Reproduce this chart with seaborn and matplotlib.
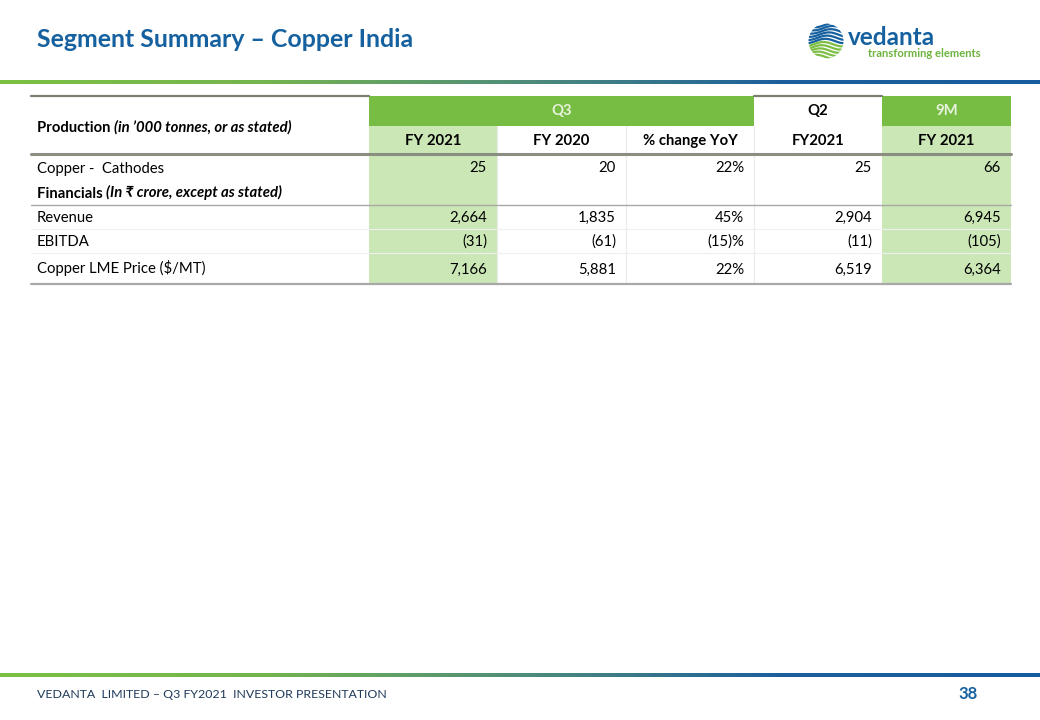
import numpy as np
import matplotlib.pyplot as plt
from matplotlib.colors import LinearSegmentedColormap
from matplotlib.patches import Rectangle, Circle
import seaborn as sns

# table content
row_labels = ["Copper -  Cathodes", "Financials", "Revenue", "EBITDA", "Copper LME Price ($/MT)"]
q3_fy2021 = [25, None, 2664, -31, 7166]
q3_fy2020 = [20, None, 1835, -61, 5881]
yoy_change = [22, None, 45, -15, 22]
q2_fy2021 = [25, None, 2904, -11, 6519]
nine_m_fy2021 = [66, None, 6945, -105, 6364]

group_headers = ["Q3", "Q2", "9M"]
sub_headers = ["FY 2021", "FY 2020", "% change YoY", "FY2021", "FY 2021"]

BLUE = "#15609F"
GREEN = "#77BD43"
LIGHT = "#CBE7B6"


def fmt(v, pct=False):
    if v is None:
        return ""
    s = f"{abs(v):,}"
    if v < 0:
        s = f"({s})"
    if pct:
        s = s + "%"
    return s


sns.set_theme(style="white")
plt.rcParams["font.family"] = ["Lato", "DejaVu Sans"]

fig = plt.figure(figsize=(10.4, 7.2), dpi=100)
ax = fig.add_axes([0, 0, 1, 1])
ax.set_xlim(0, 1040)
ax.set_ylim(720, 0)
ax.axis("off")

# title + logo
ax.text(37, 39.5, "Segment Summary \u2013 Copper India", fontsize=17.9, fontweight="bold",
        color=BLUE, va="center", ha="left")

logo = Circle((826, 41), 17.5, transform=ax.transData, facecolor="none", edgecolor="none")
ax.add_patch(logo)
xs = np.linspace(806, 846, 80)
for i, yy in enumerate(np.arange(25, 60, 3.2)):
    c = BLUE if i < 6 else "#7DBE45"
    ln, = ax.plot(xs, yy + 2.2 * np.sin((xs - 806) / 6.0 + i * 0.3), color=c, lw=1.6,
                  solid_capstyle="butt")
    ln.set_clip_path(logo)
ax.text(848, 45, "vedanta", fontsize=17.5, fontweight="bold", color=BLUE, va="baseline", ha="left")
ax.text(868, 57, "transforming elements", fontsize=8.1, fontweight="bold", color="#6DB33F",
        va="baseline", ha="left")

# gradient rules
cmap = LinearSegmentedColormap.from_list("rule", ["#7CC043", "#74B44E", "#4F8D7A", "#1D5F9C", "#175C9E"])
grad = np.linspace(0, 1, 400).reshape(1, -1)
ax.imshow(grad, cmap=cmap, extent=(0, 1040, 84, 80), aspect="auto", zorder=1)
ax.imshow(grad, cmap=cmap, extent=(0, 1040, 677.5, 673.5), aspect="auto", zorder=1)
ax.set_xlim(0, 1040)
ax.set_ylim(720, 0)

# table layout
col_edges = [31, 369, 497, 626, 754, 882, 1011]
top, mid, head_bot = 96, 126, 154
row_edges = [155, 180, 205, 229, 253, 284]

# fills
ax.add_patch(Rectangle((col_edges[1], top), col_edges[4] - col_edges[1], mid - top, color=GREEN, lw=0))
ax.add_patch(Rectangle((col_edges[5], top), col_edges[6] - col_edges[5], mid - top, color=GREEN, lw=0))
for c in (1, 5):
    ax.add_patch(Rectangle((col_edges[c], mid), col_edges[c + 1] - col_edges[c], row_edges[-1] - mid,
                           color=LIGHT, lw=0))

# faint separators
for x in (col_edges[2], col_edges[3], col_edges[4]):
    ax.plot([x, x], [mid, row_edges[-1]], color="#ececec", lw=0.8)
for y in (row_edges[3], row_edges[4]):
    ax.plot([col_edges[0], col_edges[-1]], [y, y], color="#efefef", lw=0.8)

# rules
ax.plot([col_edges[0], col_edges[1]], [top, top], color="#7b7f70", lw=1.6)
ax.plot([col_edges[4], col_edges[5]], [top, top], color="#7b7f70", lw=1.6)
ax.plot([col_edges[0], col_edges[-1]], [head_bot, head_bot], color="#8a8d80", lw=2.2)
ax.plot([col_edges[0], col_edges[-1]], [row_edges[2], row_edges[2]], color="#a8a8a8", lw=1.0)
ax.plot([col_edges[0], col_edges[-1]], [row_edges[-1], row_edges[-1]], color="#a8a8a8", lw=1.6)

fs = 10.7
base = 5.0  # baseline offset below the row centre
# header
t1 = ax.text(37, 127 + base, "Production ", fontsize=fs, fontweight="bold", color="black",
             va="baseline", ha="left")
ax.annotate("(in \u2019000 tonnes, or as stated)", xy=(1, 0), xycoords=t1, va="bottom", ha="left",
            fontsize=fs, fontweight="bold", style="italic", color="black")

group_centers = [(col_edges[1] + col_edges[4]) / 2, (col_edges[4] + col_edges[5]) / 2,
                 (col_edges[5] + col_edges[6]) / 2]
group_colors = ["#E8F3DE", "black", "#E8F3DE"]
for name, xc, c in zip(group_headers, group_centers, group_colors):
    ax.text(xc, 110 + base, name, fontsize=fs, fontweight="bold", color=c, va="baseline", ha="center")
for i, name in enumerate(sub_headers):
    xc = (col_edges[i + 1] + col_edges[i + 2]) / 2
    ax.text(xc, 140 + base, name, fontsize=fs, fontweight="bold", color="black", va="baseline",
            ha="center")

# body
columns = [q3_fy2021, q3_fy2020, yoy_change, q2_fy2021, nine_m_fy2021]
for r, label in enumerate(row_labels):
    yb = (row_edges[r] + row_edges[r + 1]) / 2 + base
    if label == "Financials":
        t2 = ax.text(37, yb, "Financials ", fontsize=fs, fontweight="bold", color="black",
                     va="baseline", ha="left")
        ax.annotate("(In \u20b9 crore, except as stated)", xy=(1, 0), xycoords=t2, va="bottom",
                    ha="left", fontsize=fs, fontweight="bold", style="italic", color="black")
    else:
        ax.text(37, yb, label, fontsize=fs, color="black", va="baseline", ha="left")
    for c, vals in enumerate(columns):
        ax.text(col_edges[c + 2] - 10, yb, fmt(vals[r], pct=(c == 2)), fontsize=fs,
                color="black", va="baseline", ha="right")

# footer
ax.text(37, 694, "VEDANTA  LIMITED \u2013 Q3 FY2021  INVESTOR PRESENTATION", fontsize=8.9,
        color="#1F3A5A", va="center", ha="left")
ax.text(978, 694, "38", fontsize=12, fontweight="bold", color=BLUE, va="center", ha="right")

fig.savefig("out.png", dpi=100)
